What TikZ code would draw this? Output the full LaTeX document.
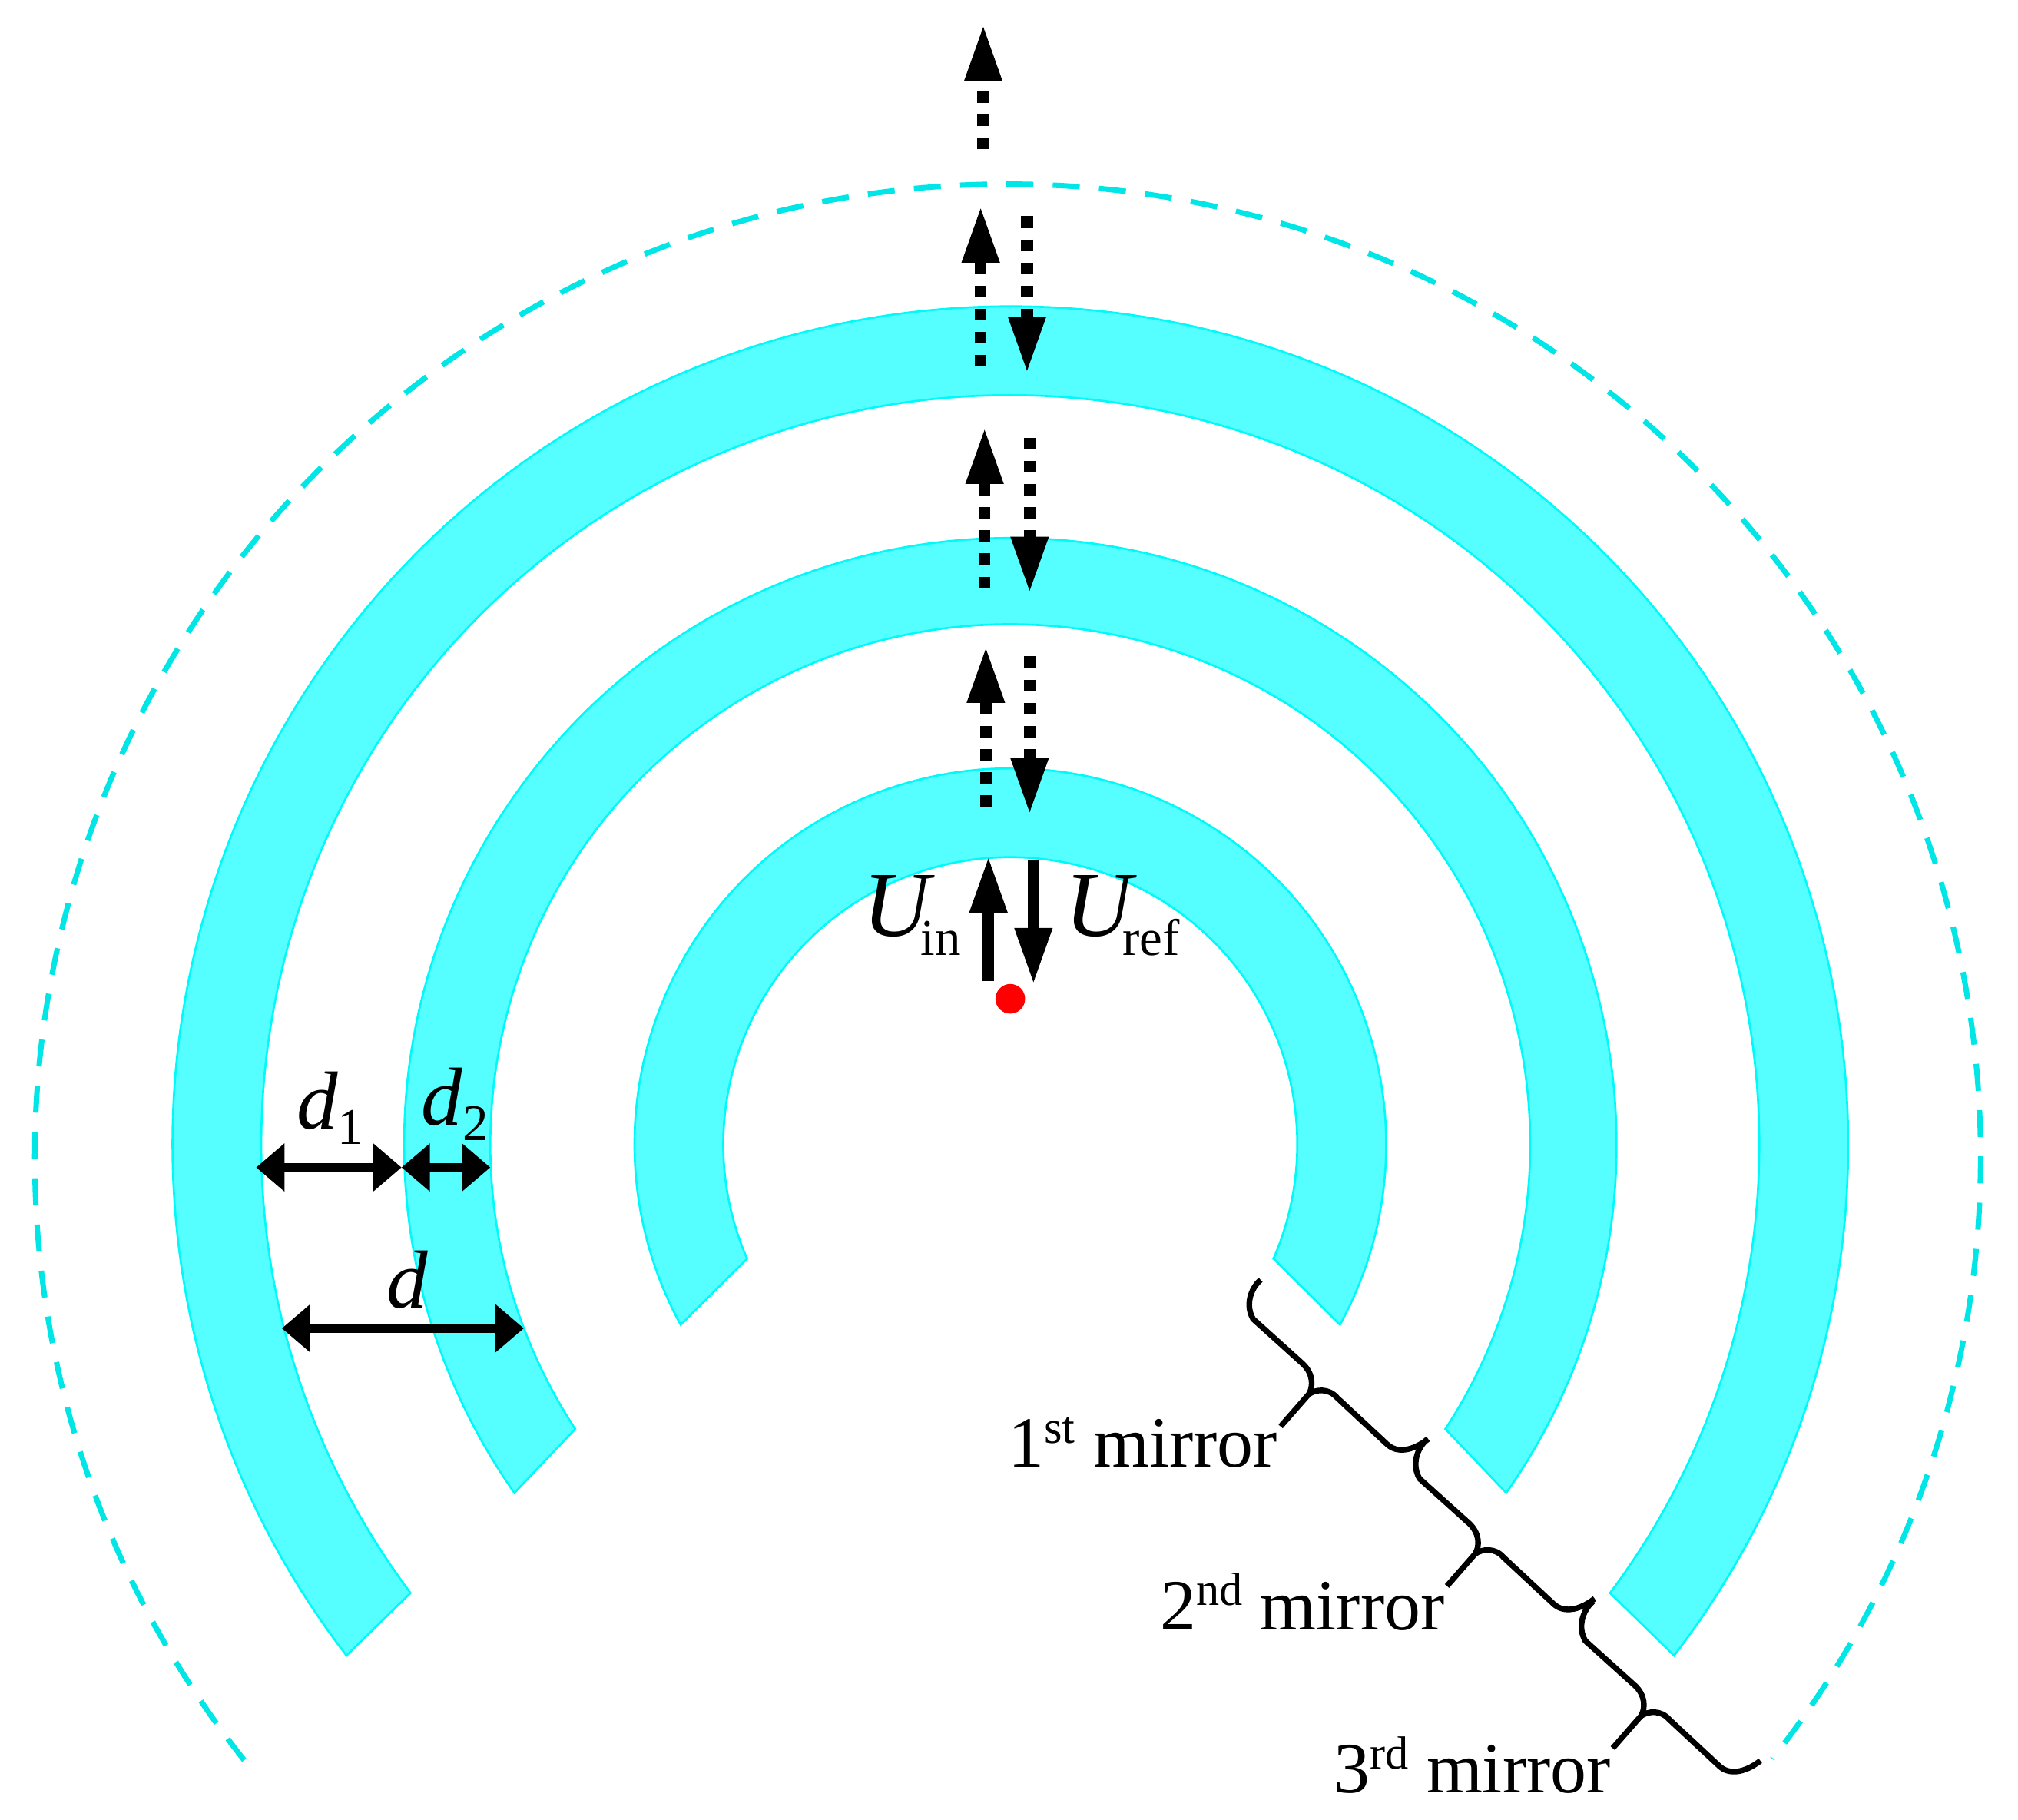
\documentclass[tikz,border=0pt]{standalone}
\usepackage{fontspec}
\setmainfont{Liberation Serif}
\usetikzlibrary{arrows.meta}
\definecolor{bandfill}{HTML}{55FFFF}
\definecolor{bandedge}{HTML}{00FAFA}
\definecolor{ringdash}{HTML}{00E6E6}
\newcommand{\lowtxt}[1]{\raisebox{-7.5pt}{\fontsize{20}{22}\selectfont #1}}
\newcommand{\dsub}[1]{\raisebox{-6pt}{\fontsize{20}{22}\selectfont #1}}
\newcommand{\hightxt}[1]{\raisebox{9.5pt}{\fontsize{18}{20}\selectfont #1}}
\tikzset{
  mirrorband/.style = {fill=bandfill, draw=bandedge, line width=0.8pt},
  ringline/.style = {draw=ringdash, line width=2.1pt, dash pattern=on 10.5pt off 7.5pt},
  solidarrow/.style = {line width=4.5pt, -{Triangle[length=22pt,width=13.5pt]}},
  dotarrow/.style = {solidarrow, dash pattern=on 4.5pt off 4.5pt},
  gaparrow/.style = {line width=3.5pt, {Triangle[length=11pt,width=18pt]}-{Triangle[length=11pt,width=18pt]}},
  bracepen/.style = {line width=2.2pt},
  symlabel/.style = {inner sep=0pt, anchor=base west, font=\fontsize{36}{38}\selectfont},
  distlabel/.style = {inner sep=0pt, anchor=base west, font=\fontsize{32}{34}\selectfont},
  mirrorlabel/.style = {inner sep=0pt, anchor=base west, font=\fontsize{28}{30}\selectfont},
  focusdot/.style = {circle, fill=red, minimum size=11.5pt, inner sep=0pt},
  mirrorbrace/.pic = {
    \draw[bracepen] (0,0) .. controls (-8,7) and (-12,20) .. (-5.8,30.5) -- (32.8,65.3)
      .. controls (41,73) and (41,83) .. (37.4,88.9) -- (15.5,113.9);
    \draw[bracepen] (37.4,88.9) .. controls (43,85) and (53,84) .. (59.5,91.7) -- (98.2,127.7)
      .. controls (106,135) and (118,133) .. (130.2,123.7);
  }
}
\begin{document}
\begin{tikzpicture}[x=0.5pt, y=-0.5pt]
  \useasboundingbox (0,0) rectangle (1568,1414);

  % mirrors
  \begin{scope}[shift={(785,889)}]
    \foreach \rin/\rout/\ain/\aout in {223/292/23.5/28.7, 404/471/33.2/35.1, 582/651/36.8/37.6}
      \path[mirrorband] (180-\ain:\rin) arc[start angle=180-\ain, end angle=360+\ain, radius=\rin]
        -- (360+\aout:\rout) arc[start angle=360+\aout, end angle=180-\aout, radius=\rout] -- cycle;
  \end{scope}

  % dashed outer ring
  \begin{scope}[shift={(783,899)}]
    \draw[ringline] (141.7:756) arc[start angle=141.7, end angle=398.2, radius=756];
  \end{scope}

  % waves between the mirrors
  \foreach \n/\xpos/\ylow/\yhigh in {a/764/116/19, b/762/285/160, c/765/457/332, d/766/627/502} {
    \coordinate (up\n low) at (\xpos,\ylow);
    \coordinate (up\n high) at (\xpos,\yhigh);
    \draw[dotarrow] (up\n low) -- (up\n high);
  }
  \foreach \n/\xpos/\yhigh/\ylow in {b/798/168/290, c/800/340/461, d/800/510/633} {
    \coordinate (down\n high) at (\xpos,\yhigh);
    \coordinate (down\n low) at (\xpos,\ylow);
    \draw[dotarrow] (down\n high) -- (down\n low);
  }
  \coordinate (inlow) at (768,762);
  \coordinate (inhigh) at (768,665);
  \coordinate (refhigh) at (803,668);
  \coordinate (reflow) at (803,765);
  \draw[solidarrow] (inlow) -- (inhigh);
  \draw[solidarrow] (refhigh) -- (reflow);
  \node (focus) [focusdot] at (785,776) {};

  \node (uin) [symlabel] at (670,727) {\textit{U}\kern-5.5pt\lowtxt{in}};
  \node (uref) [symlabel] at (827,727) {\textit{U}\kern-5.5pt\lowtxt{ref}};

  % gaps and widths
  \coordinate (gapleft) at (199,907);
  \coordinate (gapmid) at (312,907);
  \coordinate (gapright) at (381,907);
  \coordinate (pitchleft) at (219,1032);
  \coordinate (pitchright) at (407,1032);
  \draw[gaparrow] (gapleft) -- (gapmid);
  \draw[gaparrow] (gapmid) -- (gapright);
  \draw[gaparrow] (pitchleft) -- (pitchright);
  \node (done) [distlabel] at (230,877) {\textit{d}\dsub{1}};
  \node (dtwo) [distlabel] at (327,874) {\textit{d}\dsub{2}};
  \node (dall) [distlabel] at (300,1016) {\textit{d}};

  % braces and mirror names
  \pic at (979.5,994.3) {mirrorbrace};
  \pic at (1108.8,1118.3) {mirrorbrace};
  \pic at (1237.6,1244.3) {mirrorbrace};
  \node (first) [mirrorlabel] at (783,1140) {1\hightxt{st} mirror};
  \node (second) [mirrorlabel] at (901,1266) {2\hightxt{nd} mirror};
  \node (third) [mirrorlabel] at (1036,1393) {3\hightxt{rd} mirror};
\end{tikzpicture}
\end{document}
